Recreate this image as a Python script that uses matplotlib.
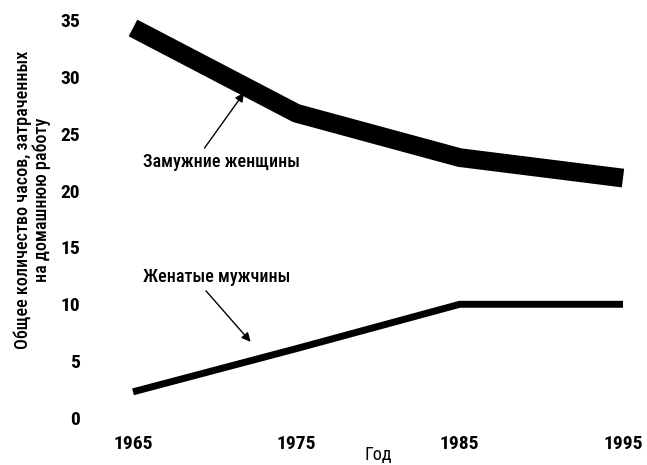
import matplotlib
matplotlib.use("Agg")
import matplotlib.pyplot as plt

# Hours per week spent on housework
years = [1965, 1975, 1985, 1995]
married_women = [34.3, 26.8, 22.9, 21.1]
married_men = [2.3, 6.1, 10.0, 10.0]
yticks = [0, 5, 10, 15, 20, 25, 30, 35]
xticks = [1965, 1975, 1985, 1995]

plt.rcParams["font.family"] = ["Roboto Condensed", "PT Sans Narrow", "DejaVu Sans"]

W, H = 647, 465
fig = plt.figure(figsize=(W / 100, H / 100), dpi=100)
x0, x1 = 133, 623
y0, y1 = 418, 20
ax = fig.add_axes([x0 / W, (H - y0) / H, (x1 - x0) / W, (y0 - y1) / H])
ax.set_xlim(1965, 1995)
ax.set_ylim(0, 35)

ax.plot(years, married_women, color="black", lw=13.5,
        solid_capstyle="butt", solid_joinstyle="round", clip_on=False)
ax.plot(years, married_men, color="black", lw=5,
        solid_capstyle="butt", solid_joinstyle="round", clip_on=False)

for s in ax.spines.values():
    s.set_visible(False)
ax.set_xticks(xticks)
ax.set_xticklabels([str(t) for t in xticks])
ax.set_yticks(yticks)
ax.set_yticklabels([str(t) for t in yticks])
ax.tick_params(length=0, labelsize=14)
ax.tick_params(axis="y", pad=38)
ax.tick_params(axis="x", pad=12)
for lab in ax.get_xticklabels() + ax.get_yticklabels():
    lab.set_fontweight("bold")

ax.set_xlabel("Год", fontsize=13, labelpad=-5)
ax.set_ylabel("Общее количество часов, затраченных\nна домашнюю работу",
              fontsize=13, linespacing=1.05, fontweight="medium")
ax.yaxis.set_label_coords((51 - x0) / (x1 - x0), (y0 - 200) / (y0 - y1))

arrow = dict(arrowstyle="-|>", color="black", lw=1.0, mutation_scale=13,
             shrinkA=2, shrinkB=0)
ax.annotate("Замужние женщины", xy=(1971.8, 28.6), xytext=(1965.6, 22.5),
            fontsize=13, ha="left", va="center", fontweight="medium",
            arrowprops=dict(arrow, relpos=(0.37, 1.0)))
ax.annotate("Женатые мужчины", xy=(1972.2, 6.7), xytext=(1965.6, 12.4),
            fontsize=13, ha="left", va="center", fontweight="medium",
            arrowprops=dict(arrow, relpos=(0.4, 0.0)))

fig.savefig("out.png", dpi=100)
